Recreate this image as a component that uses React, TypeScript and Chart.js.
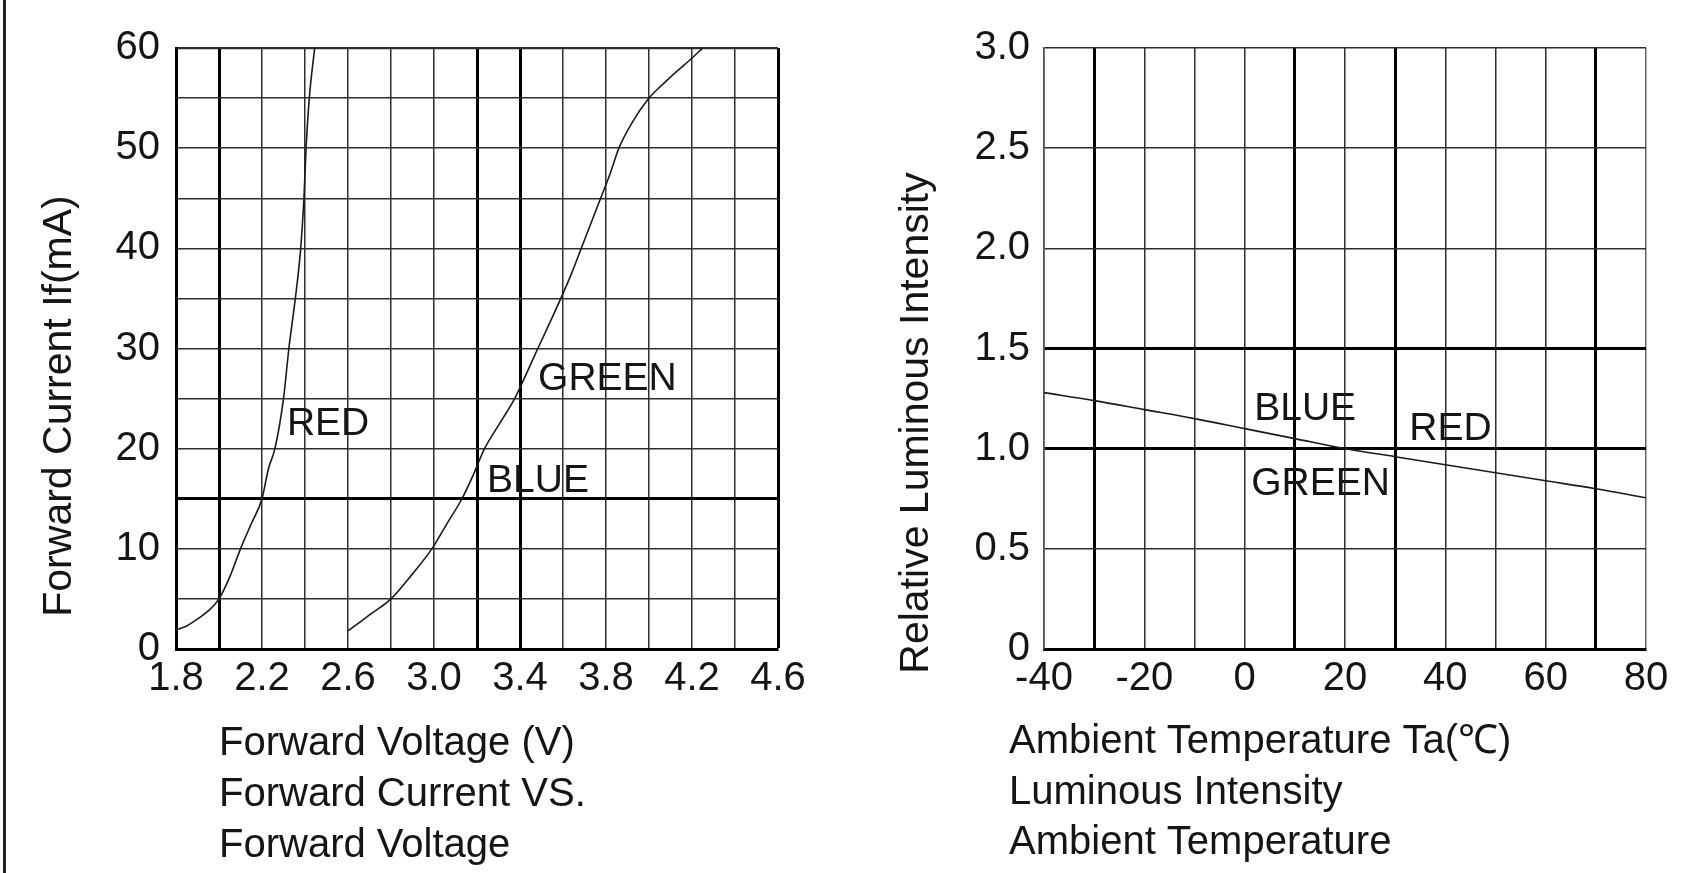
import React, { useEffect, useRef } from 'react';
import { Chart, registerables } from 'chart.js';

Chart.register(...registerables);

const FONT = '"Liberation Sans", Arial, Helvetica, sans-serif';

// ---------- Left chart: Forward Current vs Forward Voltage ----------
const RED_VOLTAGE = [1.8, 1.85, 1.9, 1.95, 2.0, 2.05, 2.1, 2.15, 2.2, 2.23, 2.26, 2.3, 2.325, 2.355, 2.38, 2.395, 2.405, 2.42, 2.445];
const RED_CURRENT = [1.9, 2.3, 3.0, 3.8, 5.0, 7.2, 10.0, 12.5, 15.0, 18.0, 20.0, 25.0, 30.0, 35.0, 40.0, 45.0, 50.0, 55.0, 60.0];
const GB_VOLTAGE = [2.6, 2.7, 2.8, 2.9, 2.99, 3.06, 3.13, 3.185, 3.235, 3.305, 3.375, 3.43, 3.483, 3.537, 3.59, 3.64, 3.685, 3.73, 3.775, 3.82, 3.86, 3.92, 4.0, 4.06, 4.12, 4.19, 4.25];
const GB_CURRENT = [1.8, 3.4, 5.0, 7.5, 10.0, 12.5, 15.0, 17.5, 20.0, 22.5, 25.0, 27.5, 30.0, 32.5, 35.0, 37.5, 40.0, 42.5, 45.0, 47.5, 50.0, 52.5, 55.0, 56.3, 57.5, 58.8, 60.0];
const LEFT_X_TICK_LABELS = ['1.8', '2.2', '2.6', '3.0', '3.4', '3.8', '4.2', '4.6'];
const LEFT_Y_TICK_LABELS = ['0', '10', '20', '30', '40', '50', '60'];
const LEFT_Y_TITLE = 'Forward Current If(mA)';
const LEFT_CAPTION = ['Forward Voltage (V)', 'Forward Current VS.', 'Forward Voltage'];
const LEFT_CURVE_NAMES = ['RED', 'GREEN', 'BLUE'];
const LEFT_CURVE_NAME_V = [2.316, 3.484, 3.247];
const LEFT_CURVE_NAME_I = [21.4, 25.9, 15.7];

// ---------- Right chart: Luminous Intensity vs Ambient Temperature ----------
const TEMPERATURE = [-40, -30, -20, -10, 0, 10, 20, 30, 40, 50, 60, 70, 80];
const REL_INTENSITY = [1.28, 1.24, 1.195, 1.15, 1.1, 1.05, 1.0, 0.96, 0.92, 0.88, 0.84, 0.8, 0.755];
const RIGHT_X_TICK_LABELS = ['-40', '-20', '0', '20', '40', '60', '80'];
const RIGHT_Y_TICK_LABELS = ['0', '0.5', '1.0', '1.5', '2.0', '2.5', '3.0'];
const RIGHT_Y_TITLE = 'Relative Luminous Intensity';
const RIGHT_CAPTION = ['Ambient Temperature Ta(\u2103)', 'Luminous Intensity', 'Ambient Temperature'];
const RIGHT_CURVE_NAMES = ['BLUE', 'RED', 'GREEN'];
const RIGHT_CURVE_NAME_T = [1.9, 32.8, 1.3];
const RIGHT_CURVE_NAME_R = [1.144, 1.044, 0.769];

// ---------- styling ----------
const W = 1691;
const H = 873;
const SPLIT = 845;
const PLOT_TOP = 48;
const PLOT_BOTTOM = 649;

const near = (arr: number[], v: number) => arr.some((b) => Math.abs(b - v) < 1e-6);
const labelFor = (labels: string[], v: number) => {
  const s = labels.find((l) => Math.abs(parseFloat(l) - v) < 1e-6);
  return s === undefined ? '' : s;
};
const pts = (xs: number[], ys: number[]) => xs.map((x, i) => ({ x, y: ys[i] }));

type TextSpec = {
  yTitle: string;
  yTitleX: number;
  yTitleY: number;
  caption: string[];
  captionX: number;
  captionY: number[];
  names: string[];
  nameX: number[];
  nameY: number[];
  leftRule?: number;
};

function makeTextPlugin(spec: TextSpec) {
  return {
    id: 'sheetText',
    afterDraw(chart: any) {
      const ctx = chart.ctx as CanvasRenderingContext2D;
      ctx.save();
      ctx.fillStyle = '#151515';
      // rotated y title
      ctx.save();
      ctx.font = `41px ${FONT}`;
      ctx.translate(spec.yTitleX, spec.yTitleY);
      ctx.rotate(-Math.PI / 2);
      ctx.textAlign = 'center';
      ctx.textBaseline = 'middle';
      ctx.fillText(spec.yTitle, 0, 0);
      ctx.restore();
      // captions
      ctx.font = `40px ${FONT}`;
      ctx.textAlign = 'left';
      ctx.textBaseline = 'alphabetic';
      spec.caption.forEach((line, i) => ctx.fillText(line, spec.captionX, spec.captionY[i]));
      // curve names
      ctx.font = `39px ${FONT}`;
      const xs = chart.scales.x;
      const ys = chart.scales.y;
      spec.names.forEach((n, i) => {
        ctx.fillText(n, xs.getPixelForValue(spec.nameX[i]), ys.getPixelForValue(spec.nameY[i]));
      });
      if (spec.leftRule !== undefined) {
        ctx.fillStyle = '#222';
        ctx.fillRect(spec.leftRule, 0, 3, H);
      }
      ctx.restore();
    },
  };
}

function gridWidth(bold: number[], edge: number[]) {
  return (c: any) => {
    const v = c.tick ? c.tick.value : NaN;
    if (near(bold, v)) return 3;
    if (near(edge, v)) return 2.2;
    return 1.5;
  };
}
function gridColor(bold: number[], light: number[]) {
  return (c: any) => {
    const v = c.tick ? c.tick.value : NaN;
    if (near(bold, v)) return '#000';
    if (near(light, v)) return '#666';
    return '#2e2e2e';
  };
}

const tickFont = { family: FONT, size: 40 };

function leftConfig(): any {
  return {
    type: 'scatter',
    data: {
      datasets: [
        { label: 'RED', data: pts(RED_VOLTAGE, RED_CURRENT) },
        { label: 'GREEN / BLUE', data: pts(GB_VOLTAGE, GB_CURRENT) },
      ].map((d) => ({
        ...d,
        showLine: true,
        borderColor: '#1a1a1a',
        borderWidth: 1.6,
        pointRadius: 0,
        cubicInterpolationMode: 'monotone',
      })),
    },
    options: {
      responsive: false,
      animation: false,
      layout: { padding: { top: PLOT_TOP, right: SPLIT - 778, bottom: 0, left: 0 } },
      plugins: { legend: { display: false }, tooltip: { enabled: false } },
      scales: {
        x: {
          type: 'linear',
          min: 1.8,
          max: 4.6,
          afterFit: (s: any) => { s.height = H - PLOT_BOTTOM; },
          ticks: {
            stepSize: 0.2,
            autoSkip: false,
            maxRotation: 0,
            minRotation: 0,
            padding: 6,
            color: '#151515',
            font: tickFont,
            callback: (v: any) => labelFor(LEFT_X_TICK_LABELS, Number(v)),
          },
          grid: {
            drawTicks: false,
            lineWidth: gridWidth([2.0, 3.2, 3.4, 4.6], []),
            color: gridColor([2.0, 3.2, 3.4, 4.6], []),
          },
          border: { display: true, width: 3, color: '#000' },
        },
        y: {
          type: 'linear',
          min: 0,
          max: 60,
          afterFit: (s: any) => { s.width = 176; },
          ticks: {
            stepSize: 5,
            autoSkip: false,
            padding: 16,
            color: '#151515',
            font: tickFont,
            callback: (v: any) => labelFor(LEFT_Y_TICK_LABELS, Number(v)),
          },
          grid: {
            drawTicks: false,
            lineWidth: gridWidth([15], [60]),
            color: gridColor([15], []),
          },
          border: { display: true, width: 3, color: '#000' },
        },
      },
    },
    plugins: [
      makeTextPlugin({
        yTitle: LEFT_Y_TITLE,
        yTitleX: 60,
        yTitleY: 406,
        caption: LEFT_CAPTION,
        captionX: 219,
        captionY: [755, 806, 857],
        names: LEFT_CURVE_NAMES,
        nameX: LEFT_CURVE_NAME_V,
        nameY: LEFT_CURVE_NAME_I,
        leftRule: 3,
      }),
    ],
  };
}

function rightConfig(): any {
  return {
    type: 'scatter',
    data: {
      datasets: [
        {
          label: 'Relative Luminous Intensity',
          data: pts(TEMPERATURE, REL_INTENSITY),
          showLine: true,
          borderColor: '#1a1a1a',
          borderWidth: 1.6,
          pointRadius: 0,
          cubicInterpolationMode: 'monotone',
        },
      ],
    },
    options: {
      responsive: false,
      animation: false,
      layout: { padding: { top: PLOT_TOP, right: W - SPLIT - (1646 - SPLIT), bottom: 0, left: 0 } },
      plugins: { legend: { display: false }, tooltip: { enabled: false } },
      scales: {
        x: {
          type: 'linear',
          min: -40,
          max: 80,
          afterFit: (s: any) => { s.height = H - PLOT_BOTTOM; },
          ticks: {
            stepSize: 10,
            autoSkip: false,
            maxRotation: 0,
            minRotation: 0,
            padding: 6,
            color: '#151515',
            font: tickFont,
            callback: (v: any) => labelFor(RIGHT_X_TICK_LABELS, Number(v)),
          },
          grid: {
            drawTicks: false,
            lineWidth: gridWidth([-30, 10, 30, 70], []),
            color: gridColor([-30, 10, 30, 70], [80]),
          },
          border: { display: true, width: 3, color: '#000' },
        },
        y: {
          type: 'linear',
          min: 0,
          max: 3,
          afterFit: (s: any) => { s.width = 1044 - SPLIT; },
          ticks: {
            stepSize: 0.5,
            autoSkip: false,
            padding: 14,
            color: '#151515',
            font: tickFont,
            callback: (v: any) => labelFor(RIGHT_Y_TICK_LABELS, Number(v)),
          },
          grid: {
            drawTicks: false,
            lineWidth: gridWidth([1.0, 1.5], []),
            color: gridColor([1.0, 1.5], []),
          },
          border: { display: true, width: 1.6, color: '#555' },
        },
      },
    },
    plugins: [
      makeTextPlugin({
        yTitle: RIGHT_Y_TITLE,
        yTitleX: 917 - SPLIT,
        yTitleY: 423,
        caption: RIGHT_CAPTION,
        captionX: 1009 - SPLIT,
        captionY: [753, 804, 854],
        names: RIGHT_CURVE_NAMES,
        nameX: RIGHT_CURVE_NAME_T,
        nameY: RIGHT_CURVE_NAME_R,
      }),
    ],
  };
}

export default function App() {
  const leftRef = useRef<HTMLCanvasElement | null>(null);
  const rightRef = useRef<HTMLCanvasElement | null>(null);

  useEffect(() => {
    const charts: Chart[] = [];
    if (leftRef.current) charts.push(new Chart(leftRef.current, leftConfig()));
    if (rightRef.current) charts.push(new Chart(rightRef.current, rightConfig()));
    return () => charts.forEach((c) => c.destroy());
  }, []);

  return (
    <div style={{ position: 'absolute', left: 0, top: 0, width: W, height: H, background: '#fff', overflow: 'hidden' }}>
      <canvas ref={leftRef} width={SPLIT} height={H} style={{ position: 'absolute', left: 0, top: 0, width: SPLIT, height: H }} />
      <canvas ref={rightRef} width={W - SPLIT} height={H} style={{ position: 'absolute', left: SPLIT, top: 0, width: W - SPLIT, height: H }} />
    </div>
  );
}
